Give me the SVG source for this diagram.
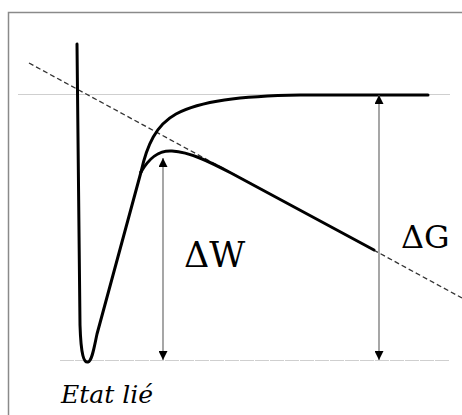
<svg xmlns="http://www.w3.org/2000/svg" width="462" height="415" viewBox="0 0 462 415">
<defs>
<style>
.frame{fill:none;stroke:#8a8a8a;stroke-width:1.5}
.ref{stroke:#cfcfcf;stroke-width:1.2;fill:none}
.curve{fill:none;stroke:#000;stroke-width:3;stroke-linecap:round;stroke-linejoin:round}
.dash{fill:none;stroke:#333;stroke-width:1.3;stroke-dasharray:5,3}
.arr{stroke:#777;stroke-width:1.3;fill:none}
.lbl{fill:#000;font-family:"DejaVu Serif",serif}
</style>
<marker id="ah" viewBox="0 0 10 10" refX="10" refY="5" markerWidth="10" markerHeight="9" markerUnits="userSpaceOnUse" orient="auto-start-reverse">
<path d="M0,0 L10,5 L0,10 Z" fill="#000"/>
</marker>
</defs>
<rect width="462" height="415" fill="#fff"/>
<path class="frame" d="M8.5,415 L8.5,12.5 L462,12.5"/>
<g id="reference-lines">
<line class="ref" x1="18" y1="94.5" x2="450" y2="94.5"/>
<line class="ref" x1="60" y1="360.5" x2="450" y2="360.5" stroke-dasharray="14,1"/>
</g>
<g id="tangent">
<line class="dash" x1="29" y1="63" x2="462" y2="298"/>
</g>
<g id="potential-curves">
<path class="curve" d="M77,44 L80,325 C81,356 84,363 88,362 C92,361 94,348 97,334 L141,172"/>
<path class="curve" d="M141,172 C147,145 156,125 176,114 C200,101 240,96 300,95 L428,95"/>
<path class="curve" d="M141,172 C148,160 157,150 172,151 C190,152 210,162 231,173 L374,250"/>
</g>
<g id="connectors">
<line class="arr" x1="163" y1="158" x2="163" y2="360" marker-start="url(#ah)" marker-end="url(#ah)"/>
<line class="arr" x1="379" y1="95" x2="379" y2="360" marker-start="url(#ah)" marker-end="url(#ah)"/>
</g>
<g id="label-dW"><text class="lbl" x="184" y="267" font-size="35">ΔW</text></g>
<g id="label-dG"><text class="lbl" x="401" y="248" font-size="32">ΔG</text></g>
<g id="label-etat"><text class="lbl" x="61" y="403" font-size="25" font-style="italic">Etat lié</text></g>
</svg>
